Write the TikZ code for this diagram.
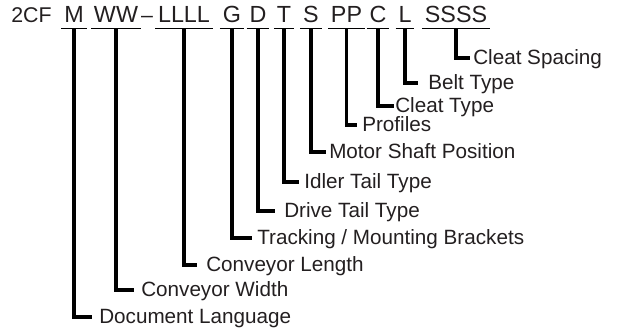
\documentclass[tikz,border=0pt]{standalone}
\usepackage{fontspec}
\setmainfont{Liberation Sans}
\definecolor{ink}{HTML}{231F20}
\begin{document}
\begin{tikzpicture}[x=0.75pt,y=-0.75pt,
  seg/.style={anchor=base,inner ysep=0pt,inner xsep=2pt,text height=11pt,text depth=3.75pt,
    font=\fontsize{17.5pt}{20pt}\selectfont,text=ink},
  plain/.style={anchor=base,inner sep=0pt,font=\fontsize{16pt}{19pt}\selectfont,text=ink},
  lab/.style={anchor=base west,inner sep=0pt,text height=10.5pt,text depth=0pt,
    font=\fontsize{15.5pt}{18pt}\selectfont,text=ink},
  uline/.style={line width=0.8pt,black},
  conn/.style={line width=2.3pt,black,line join=miter,line cap=butt}]
\useasboundingbox (0,0) rectangle (617,334);
% code segments
\node[plain] (c2cf) at (31.5,22.5) {2CF};
\node[seg] (sM) at (74,23) {M};
\node[seg] (sW) at (116,23) {WW};
\node[plain] (dash) at (147,22.5) {–};
\node[seg] (sL) at (184,23) {LLLL};
\node[seg] (sG) at (232,23) {G};
\node[seg] (sD) at (258,23) {D};
\node[seg] (sT) at (284,23) {T};
\node[seg] (sS) at (311,23) {S};
\node[seg] (sP) at (346.5,23) {PP};
\node[seg] (sC) at (378,23) {C};
\node[seg] (sB) at (405,23) {L};
\node[seg] (sX) at (456,23) {SSSS};
\foreach \s in {sM,sW,sL,sG,sD,sT,sS,sP,sC,sB,sX}
  \draw[uline] (\s.south west) -- (\s.south east);
% labels
\node[lab] (lX) at (473,65) {Cleat Spacing};
\node[lab] (lB) at (428,90) {Belt Type};
\node[lab] (lC) at (395,113) {Cleat Type};
\node[lab] (lP) at (362,132) {Profiles};
\node[lab] (lS) at (329,159) {Motor Shaft Position};
\node[lab] (lT) at (304,189) {Idler Tail Type};
\node[lab] (lD) at (284,218) {Drive Tail Type};
\node[lab] (lG) at (257,245) {Tracking / Mounting Brackets};
\node[lab] (lL) at (206,272) {Conveyor Length};
\node[lab] (lW) at (141,297) {Conveyor Width};
\node[lab] (lM) at (99,324) {Document Language};
% connectors
\draw[conn] (sX.south) |- ([xshift=-2.5pt]lX.west);
\draw[conn] (sB.south) |- ([xshift=-7.5pt]lB.west);
\draw[conn] (sC.south) |- ([xshift=-1pt]lC.west);
\draw[conn] (sP.south) |- ([xshift=-3.5pt]lP.west);
\draw[conn] (sS.south) |- ([xshift=-2pt]lS.west);
\draw[conn] (sT.south) |- ([xshift=-3.5pt]lT.west);
\draw[conn] (sD.south) |- ([xshift=-7pt]lD.west);
\draw[conn] (sG.south) |- ([xshift=-4pt]lG.west);
\draw[conn] (sL.south) |- ([xshift=-7pt]lL.west);
\draw[conn] (sW.south) |- ([xshift=-5pt]lW.west);
\draw[conn] (sM.south) |- ([xshift=-5pt]lM.west);
\end{tikzpicture}
\end{document}
